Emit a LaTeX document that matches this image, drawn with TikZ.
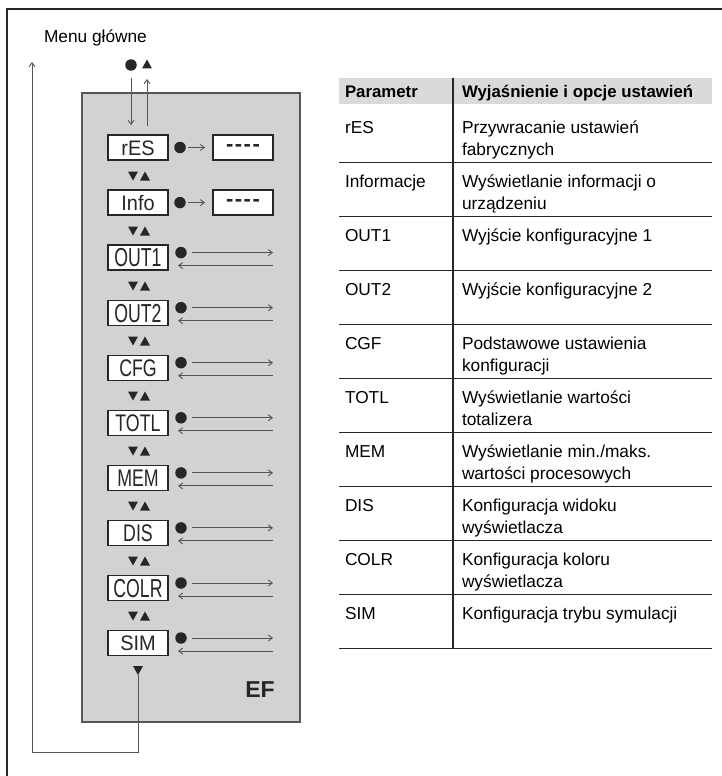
\documentclass[tikz,border=0pt]{standalone}
\usepackage{fontspec}
\setmainfont{Liberation Sans}
\newfontfamily\fA{Liberation Sans}[FakeStretch=0.95]
\newfontfamily\fB{Liberation Sans}[FakeStretch=0.74]
\newfontfamily\fC{Liberation Sans}[FakeStretch=0.68]
\usetikzlibrary{arrows.meta}
\definecolor{panel}{HTML}{D1D2D4}
\definecolor{hdr}{HTML}{DADADB}
\definecolor{ln}{HTML}{262626}
\definecolor{gl}{HTML}{555555}
\newcommand\TriDn[2]{\fill[ln] (#1-5,#2-4.5) -- (#1+5,#2-4.5) -- (#1,#2+4.5) -- cycle;}
\newcommand\TriUp[2]{\fill[ln] (#1-5,#2+4.5) -- (#1+5,#2+4.5) -- (#1,#2-4.5) -- cycle;}
\newcommand\dsh{\textbf{-\kern1.5pt-\kern1.5pt-\kern1.5pt-}}
\begin{document}
\begin{tikzpicture}[x=1pt,y=-1pt,
  every node/.style={inner sep=0pt, outer sep=0pt},
  tip/.style={draw=gl, line width=0.9pt, -{Straight Barb[length=4pt,width=6pt]}},
  lbox/.style={draw=ln, line width=1.4pt, fill=white, minimum width=60pt, minimum height=25pt, text=ln},
  sa/.style={lbox, font=\fA\fontsize{21}{21}\selectfont, text height=15pt, text depth=0pt},
  sb/.style={lbox, font=\fB\fontsize{24}{24}\selectfont, text height=17pt, text depth=0pt},
  sc/.style={lbox, font=\fC\fontsize{26}{26}\selectfont, text height=18.6pt, text depth=0pt},
  dbox/.style={lbox, font=\fontsize{22}{22}\selectfont},
  tx/.style={anchor=base west, font=\fontsize{17.3}{22}\selectfont, text=black},
  th/.style={tx, font=\bfseries\fontsize{16.8}{22}\selectfont},
  dot/.style={circle, fill=ln, minimum size=11.5pt}
]
\useasboundingbox (0,0) rectangle (722,776);
% frame
\draw[ln, line width=2pt] (7,776) -- (7,9) -- (722,9);
% panel
\filldraw[fill=panel, draw=gl, line width=1.4pt] (82,93) rectangle (300,722);
% title
\node[tx] (menu) at (44,43) {Menu główne};
% top dot and up triangle
\node[dot] (dot0) at (131,65) {};
\TriUp{147}{64}
\coordinate (a1) at (131,78);
\coordinate (a2) at (131,125);
\coordinate (a3) at (147,126);
\coordinate (a4) at (147,79);
\draw[tip] (a1) -- (a2);
\draw[tip] (a3) -- (a4);
% menu boxes
\node[sa] (b0) at (138,147.5) {rES};
\node[sa] (b1) at (138,202.6) {Info};
\node[sc] (b2) at (138,257.6) {OUT1};
\node[sc] (b3) at (138,312.7) {OUT2};
\node[sb] (b4) at (138,367.7) {CFG};
\node[sb] (b5) at (138,422.8) {TOTL};
\node[sb] (b6) at (138,477.9) {MEM};
\node[sb] (b7) at (138,532.9) {DIS};
\node[sc] (b8) at (138,588.0) {COLR};
\node[sa] (b9) at (138,643.0) {SIM};
% up/down triangles between boxes
\foreach \y in {176,231,286,341,396,451,506,561,616}{
  \TriDn{133}{\y}
  \TriUp{145}{\y}
}
% rES and Info side
\node[dot] (p0) at (180,147.5) {};
\node[dbox] (d0) at (243,147.5) {\dsh};
\coordinate (s0) at (188,147.5);
\coordinate (t0) at (205,147.5);
\draw[tip] (s0) -- (t0);
\node[dot] (p1) at (180,202.6) {};
\node[dbox] (d1) at (243,202.6) {\dsh};
\coordinate (s1) at (188,202.6);
\coordinate (t1) at (205,202.6);
\draw[tip] (s1) -- (t1);
% long arrows
\foreach \n/\c in {2/257.6,3/312.7,4/367.7,5/422.8,6/477.9,7/532.9,8/588.0,9/643.0}{
  \node[dot] (p\n) at (181,\c-5) {};
  \coordinate (r\n a) at (192,\c-5);
  \coordinate (r\n b) at (273,\c-5);
  \coordinate (l\n a) at (273,\c+8);
  \coordinate (l\n b) at (178,\c+8);
  \draw[tip] (r\n a) -- (r\n b);
  \draw[tip] (l\n a) -- (l\n b);
}
% bottom return loop
\TriDn{138}{670.5}
\coordinate (q0) at (138,675);
\coordinate (q1) at (138,752.5);
\coordinate (q2) at (32,752.5);
\coordinate (q3) at (32,62);
\draw[tip] (q0) -- (q1) -- (q2) -- (q3);
% EF
\node[font=\bfseries\fontsize{23}{23}\selectfont, text=ln] (ef) at (260,690) {EF};
% table
\fill[hdr] (339,78) rectangle (712,104);
\draw[ln, line width=1.3pt] (453,78) -- (453,648);
\foreach \k in {1,...,10}{
  \draw[ln, line width=1pt] (339,108+54*\k) -- (712,108+54*\k);
}
\node[th] (h1) at (345,97) {Parametr};
\node[th] (h2) at (462,97) {Wyjaśnienie i opcje ustawień};
\foreach \k/\p/\la/\lb in {
  0/rES/{Przywracanie ustawień}/{fabrycznych},
  1/Informacje/{Wyświetlanie informacji o}/{urządzeniu},
  2/OUT1/{Wyjście konfiguracyjne 1}/{},
  3/OUT2/{Wyjście konfiguracyjne 2}/{},
  4/CGF/{Podstawowe ustawienia}/{konfiguracji},
  5/TOTL/{Wyświetlanie wartości}/{totalizera},
  6/MEM/{Wyświetlanie min./maks.}/{wartości procesowych},
  7/DIS/{Konfiguracja widoku}/{wyświetlacza},
  8/COLR/{Konfiguracja koloru}/{wyświetlacza},
  9/SIM/{Konfiguracja trybu symulacji}/{}}{
  \node[tx] (c\k) at (345,108+54*\k+25) {\p};
  \node[tx] (e\k) at (462,108+54*\k+25) {\la};
  \node[tx] (f\k) at (462,108+54*\k+47) {\lb};
}
\end{tikzpicture}
\end{document}
